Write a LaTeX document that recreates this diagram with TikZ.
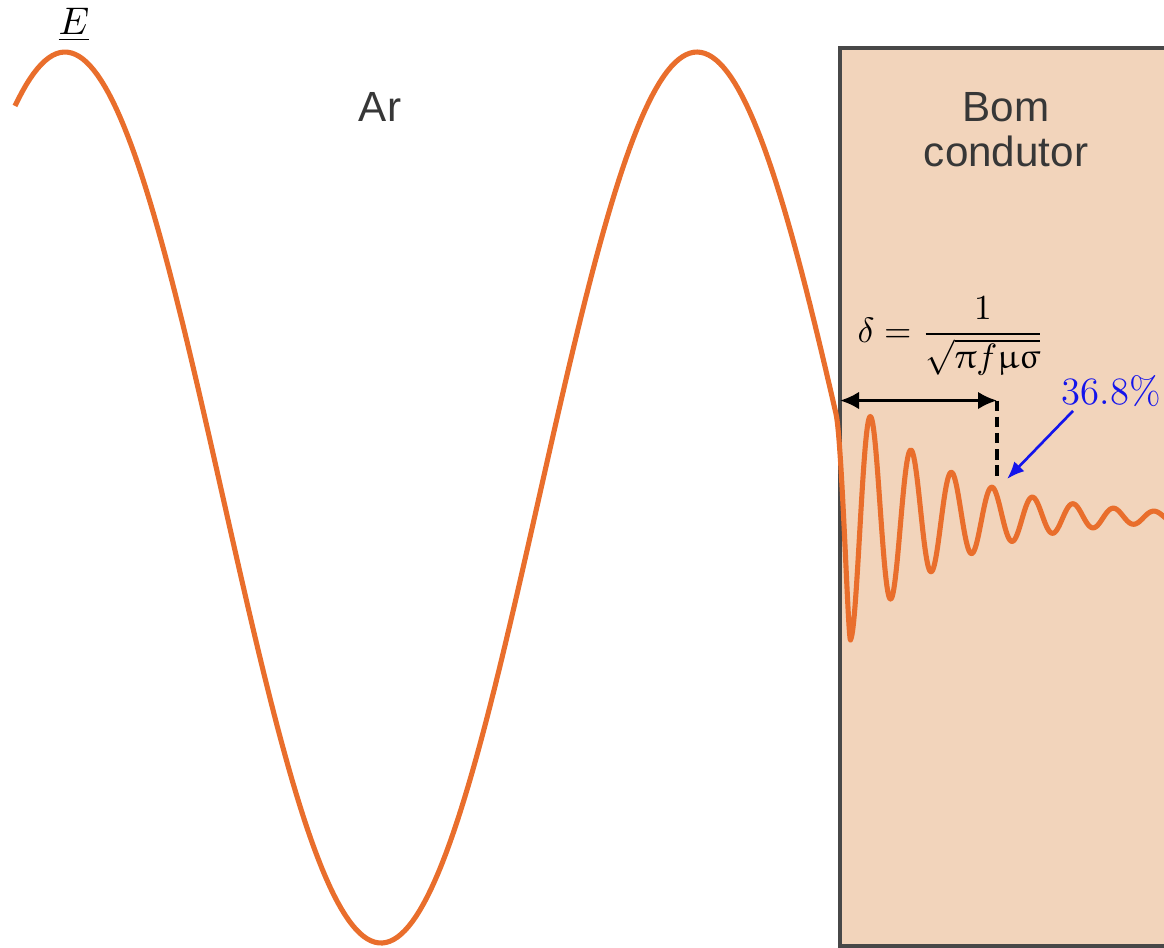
\documentclass[tikz,border=0pt]{standalone}
\definecolor{waveorange}{RGB}{233,110,44}
\definecolor{condpeach}{RGB}{242,212,187}
\definecolor{framegray}{RGB}{72,72,72}
\definecolor{labelgray}{RGB}{55,55,55}
\definecolor{pctblue}{RGB}{20,20,235}
\usepackage{fontspec}
\setsansfont{Liberation Sans}
\usepackage{amsmath}
\usepackage{upgreek}
\usepackage{tikz}
\usetikzlibrary{arrows.meta, positioning, calc}

\begin{document}
\begin{tikzpicture}[x=0.01cm, y=-0.01cm,
    wave/.style={waveorange, line width=1.45pt, line join=round},
    labeltext/.style={font=\sffamily\fontsize{12}{12.8}\selectfont, text=labelgray, align=center},
    dimarrow/.style={black, line width=0.85pt, {Latex[length=5.4pt,width=5pt]}-{Latex[length=5.4pt,width=5pt]}},
    pctarrow/.style={pctblue, line width=0.75pt, -{Latex[length=5pt,width=4pt]}}]
  % Canvas 1164 x 947 units, y pointing down
  \useasboundingbox (0,0) rectangle (1164,947);
  \clip (0,0) rectangle (1164,947);

  % Good conductor block (runs off the right edge)
  \fill[condpeach] (840,48) rectangle (1180,946);
  \draw[framegray, line width=0.9pt] (1180,48) -- (840,48) -- (840,946) -- (1180,946);

  % Wave in air: centre 497.5, amplitude 445.5, period 632 (peaks at 65 and 697)
  % Wave in conductor: centre 517, amplitude 100*exp(-(x-871)/100), period 40.5
  \draw[wave] plot[domain=15:836, samples=220] (\x, {497.5-445.5*cos((\x-65)/632*360)})
    .. controls (842,440) and (848,640) .. (850.5,640)
    -- plot[domain=850.5:1170, samples=420] (\x, {517-100*exp(-(\x-871)/100)*cos((\x-870.7)/40.5*360)});

  % Labels
  \node[font=\fontsize{10.5}{12}\selectfont] (elabel) at (74,25) {$\underline{E}$};
  \node[labeltext] (arlabel) at (380,107) {Ar};
  \node[labeltext] (condlabel) at (1006,130) {Bom\\condutor};
  \node[font=\fontsize{10}{12}\selectfont] (delta) at (951,336)
    {$\displaystyle \delta = \frac{1}{\sqrt{\uppi f \upmu \upsigma}}$};
  \node[anchor=base west, inner sep=0pt, text=pctblue, font=\fontsize{11}{13}\selectfont] (pct) at (1061,404) {36.8\%};

  % Skin depth marker
  \coordinate (dstart) at (840,400.5);
  \coordinate (dend) at (997,400.5);
  \coordinate (dfoot) at (997,478);
  \coordinate (pcttip) at (1007,479);
  \draw[dimarrow] (dstart) -- (dend);
  \draw[black, line width=0.95pt, dash pattern=on 3pt off 1.6pt] (dend) -- (dfoot);
  \draw[pctarrow] ($(pct.south west)+(12,4)$) -- (pcttip);
\end{tikzpicture}
\end{document}
